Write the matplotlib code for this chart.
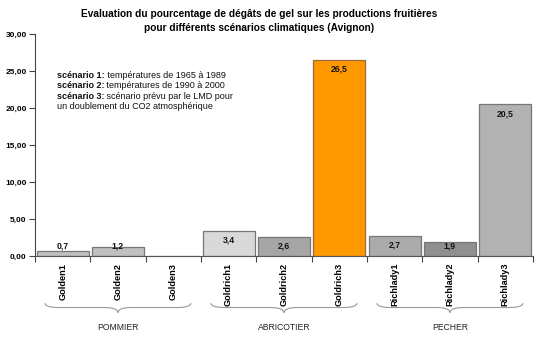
import matplotlib
matplotlib.use("Agg")
import matplotlib.pyplot as plt
from matplotlib.path import Path
from matplotlib.patches import PathPatch
from matplotlib.transforms import blended_transform_factory

plt.rcParams['font.family'] = ['Liberation Sans', 'DejaVu Sans']

categories = ["Golden1", "Golden2", "Golden3",
              "Goldrich1", "Goldrich2", "Goldrich3",
              "Richlady1", "Richlady2", "Richlady3"]
values = [0.7, 1.2, 0.0, 3.4, 2.6, 26.5, 2.7, 1.9, 20.5]
groups = ["POMMIER", "ABRICOTIER", "PECHER"]
y_ticks = [0, 5, 10, 15, 20, 25, 30]

bar_colors = ["#c0c0c0", "#c0c0c0", "#c0c0c0",
              "#d9d9d9", "#a6a6a6", "#ff9900",
              "#ababab", "#8f8f8f", "#b2b2b2"]
edge_colors = ["#777777"] * 5 + ["#9c6a3a"] + ["#777777"] * 3

fig = plt.figure(figsize=(5.4, 3.38), dpi=100)
ax = fig.add_axes([0.0648, 0.2426, 0.922, 0.657])

x = list(range(len(categories)))
ax.bar(x, values, width=0.94, color=bar_colors, edgecolor=edge_colors,
       linewidth=0.9, zorder=2)

# value labels: just under the top of each bar, kept above a floor for short bars
for xi, v in zip(x, values):
    if v <= 0:
        continue
    ax.text(xi, max(v - 1.25, 1.35), f"{v:.1f}".replace(".", ","),
            ha="center", va="center", fontsize=6.2, fontweight="bold",
            color="#111111", zorder=3)

ax.set_xlim(-0.5, len(categories) - 0.5)
ax.set_ylim(0, 30)
ax.set_yticks(y_ticks)
ax.set_yticklabels([f"{t:.2f}".replace(".", ",") for t in y_ticks],
                   fontsize=6, fontweight="bold")
ax.tick_params(axis="y", direction="out", length=4, width=0.8,
               color="#444444", pad=2)

ax.set_xticks(x)
ax.set_xticklabels(categories, rotation=90, fontsize=6.6, fontweight="bold")
ax.set_xticks([i - 0.5 for i in range(len(categories) + 1)], minor=True)
ax.tick_params(axis="x", which="major", length=0, pad=5)
ax.tick_params(axis="x", which="minor", direction="out", length=4,
               width=0.8, color="#444444")

for side in ("top", "right"):
    ax.spines[side].set_visible(False)
ax.spines["left"].set_color("#444444")
ax.spines["bottom"].set_color("#555555")
ax.spines["left"].set_linewidth(0.8)
ax.spines["bottom"].set_linewidth(0.8)

fig.text(0.48, 1 - 21 / 338,
         "Evaluation du pourcentage de dégâts de gel sur les productions fruitières\n"
         "pour différents scénarios climatiques (Avignon)",
         ha="center", va="center", fontsize=7.3, fontweight="bold",
         linespacing=1.5)

# scenario notes
notes = [("scénario 1:", " températures de 1965 à 1989"),
         ("scénario 2:", " températures de 1990 à 2000"),
         ("scénario 3:", " scénario prévu par le LMD pour"),
         ("", "un doublement du CO2 atmosphérique")]
x0, y0, dy = 57 / 540, 1 - 75 / 338, 10.6 / 338
for i, (head, rest) in enumerate(notes):
    yy = y0 - i * dy
    t = fig.text(x0, yy, head, fontsize=6.5, fontweight="bold",
                 va="center", ha="left", color="#111111")
    if head:
        fig.canvas.draw()
        bb = t.get_window_extent()
        fig.text(bb.x1 / 540, yy, rest, fontsize=6.5, va="center",
                 ha="left", color="#111111")
    else:
        t.set_fontweight("normal")
        t.set_text(rest)

# group braces under the category labels
trans = blended_transform_factory(ax.transData, ax.transAxes)
y_top, y_mid, y_tip = -0.212, -0.232, -0.255
for gi, name in enumerate(groups):
    xa = gi * 3 - 0.5 + 0.18
    xb = gi * 3 + 2.5 - 0.18
    xc = (xa + xb) / 2
    d = 0.25
    verts = [(xa, y_top), (xa, y_mid), (xa + d, y_mid),
             (xc - d, y_mid), (xc, y_mid), (xc, y_tip),
             (xc, y_mid), (xc + d, y_mid),
             (xb - d, y_mid), (xb, y_mid), (xb, y_top)]
    codes = [Path.MOVETO, Path.CURVE3, Path.CURVE3,
             Path.LINETO, Path.CURVE3, Path.CURVE3,
             Path.CURVE3, Path.CURVE3,
             Path.LINETO, Path.CURVE3, Path.CURVE3]
    ax.add_patch(PathPatch(Path(verts, codes), transform=trans, fill=False,
                           edgecolor="#999999", linewidth=0.8,
                           clip_on=False))
    ax.text(xc, -0.32, name, transform=trans, ha="center", va="center",
            fontsize=6.2, color="#222222")

fig.savefig("out.png", dpi=100)
